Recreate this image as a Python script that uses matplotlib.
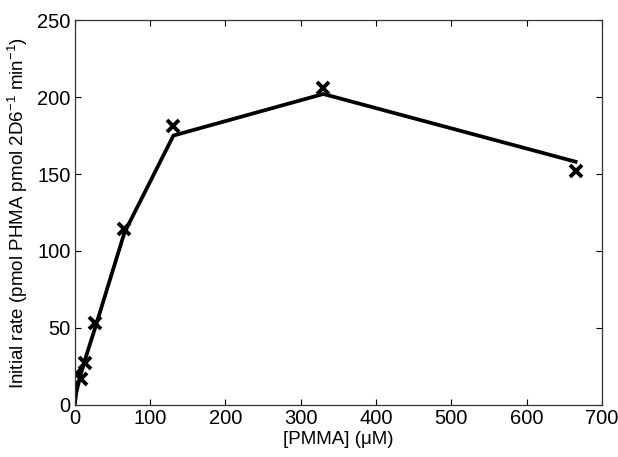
import numpy as np
import matplotlib
matplotlib.use('Agg')
import matplotlib.pyplot as plt

plt.rcParams['font.family'] = ['Liberation Sans', 'DejaVu Sans']
plt.rcParams['mathtext.default'] = 'regular'

# measured points
conc = [2, 8, 14, 27, 66, 131, 330, 665]
rate = [20, 17, 27, 53, 114, 181, 206, 152]

# fitted curve
fit_conc = [0, 2, 8, 14, 27, 66, 131, 330, 665]
fit_rate = [0, 8, 20, 30, 50, 112, 175, 202, 158]

fig = plt.figure(figsize=(6.18, 4.57), dpi=100)
ax = fig.add_axes([0.121, 0.114, 0.853, 0.842])

ax.plot(fit_conc, fit_rate, color='black', linewidth=2.7, solid_joinstyle='miter')
ax.plot(conc, rate, linestyle='none', marker='x', color='black',
        markersize=8, markeredgewidth=2.8)

ax.set_xlim(0, 700)
ax.set_ylim(0, 250)
ax.set_xticks(np.arange(0, 701, 100))
ax.set_yticks(np.arange(0, 251, 50))
ax.tick_params(direction='in', top=True, right=True, length=4, width=0.8,
               labelsize=14.5, colors='black', pad=3)
for s in ax.spines.values():
    s.set_linewidth(0.9)
    s.set_color('#333333')

ax.set_xlabel('[PMMA] (\u03bcM)', fontsize=13.5, labelpad=2)
ax.set_ylabel('Initial rate (pmol PHMA pmol 2D6$^{-1}$ min$^{-1}$)', fontsize=13.5, labelpad=5)

fig.savefig('out.png', dpi=100)
